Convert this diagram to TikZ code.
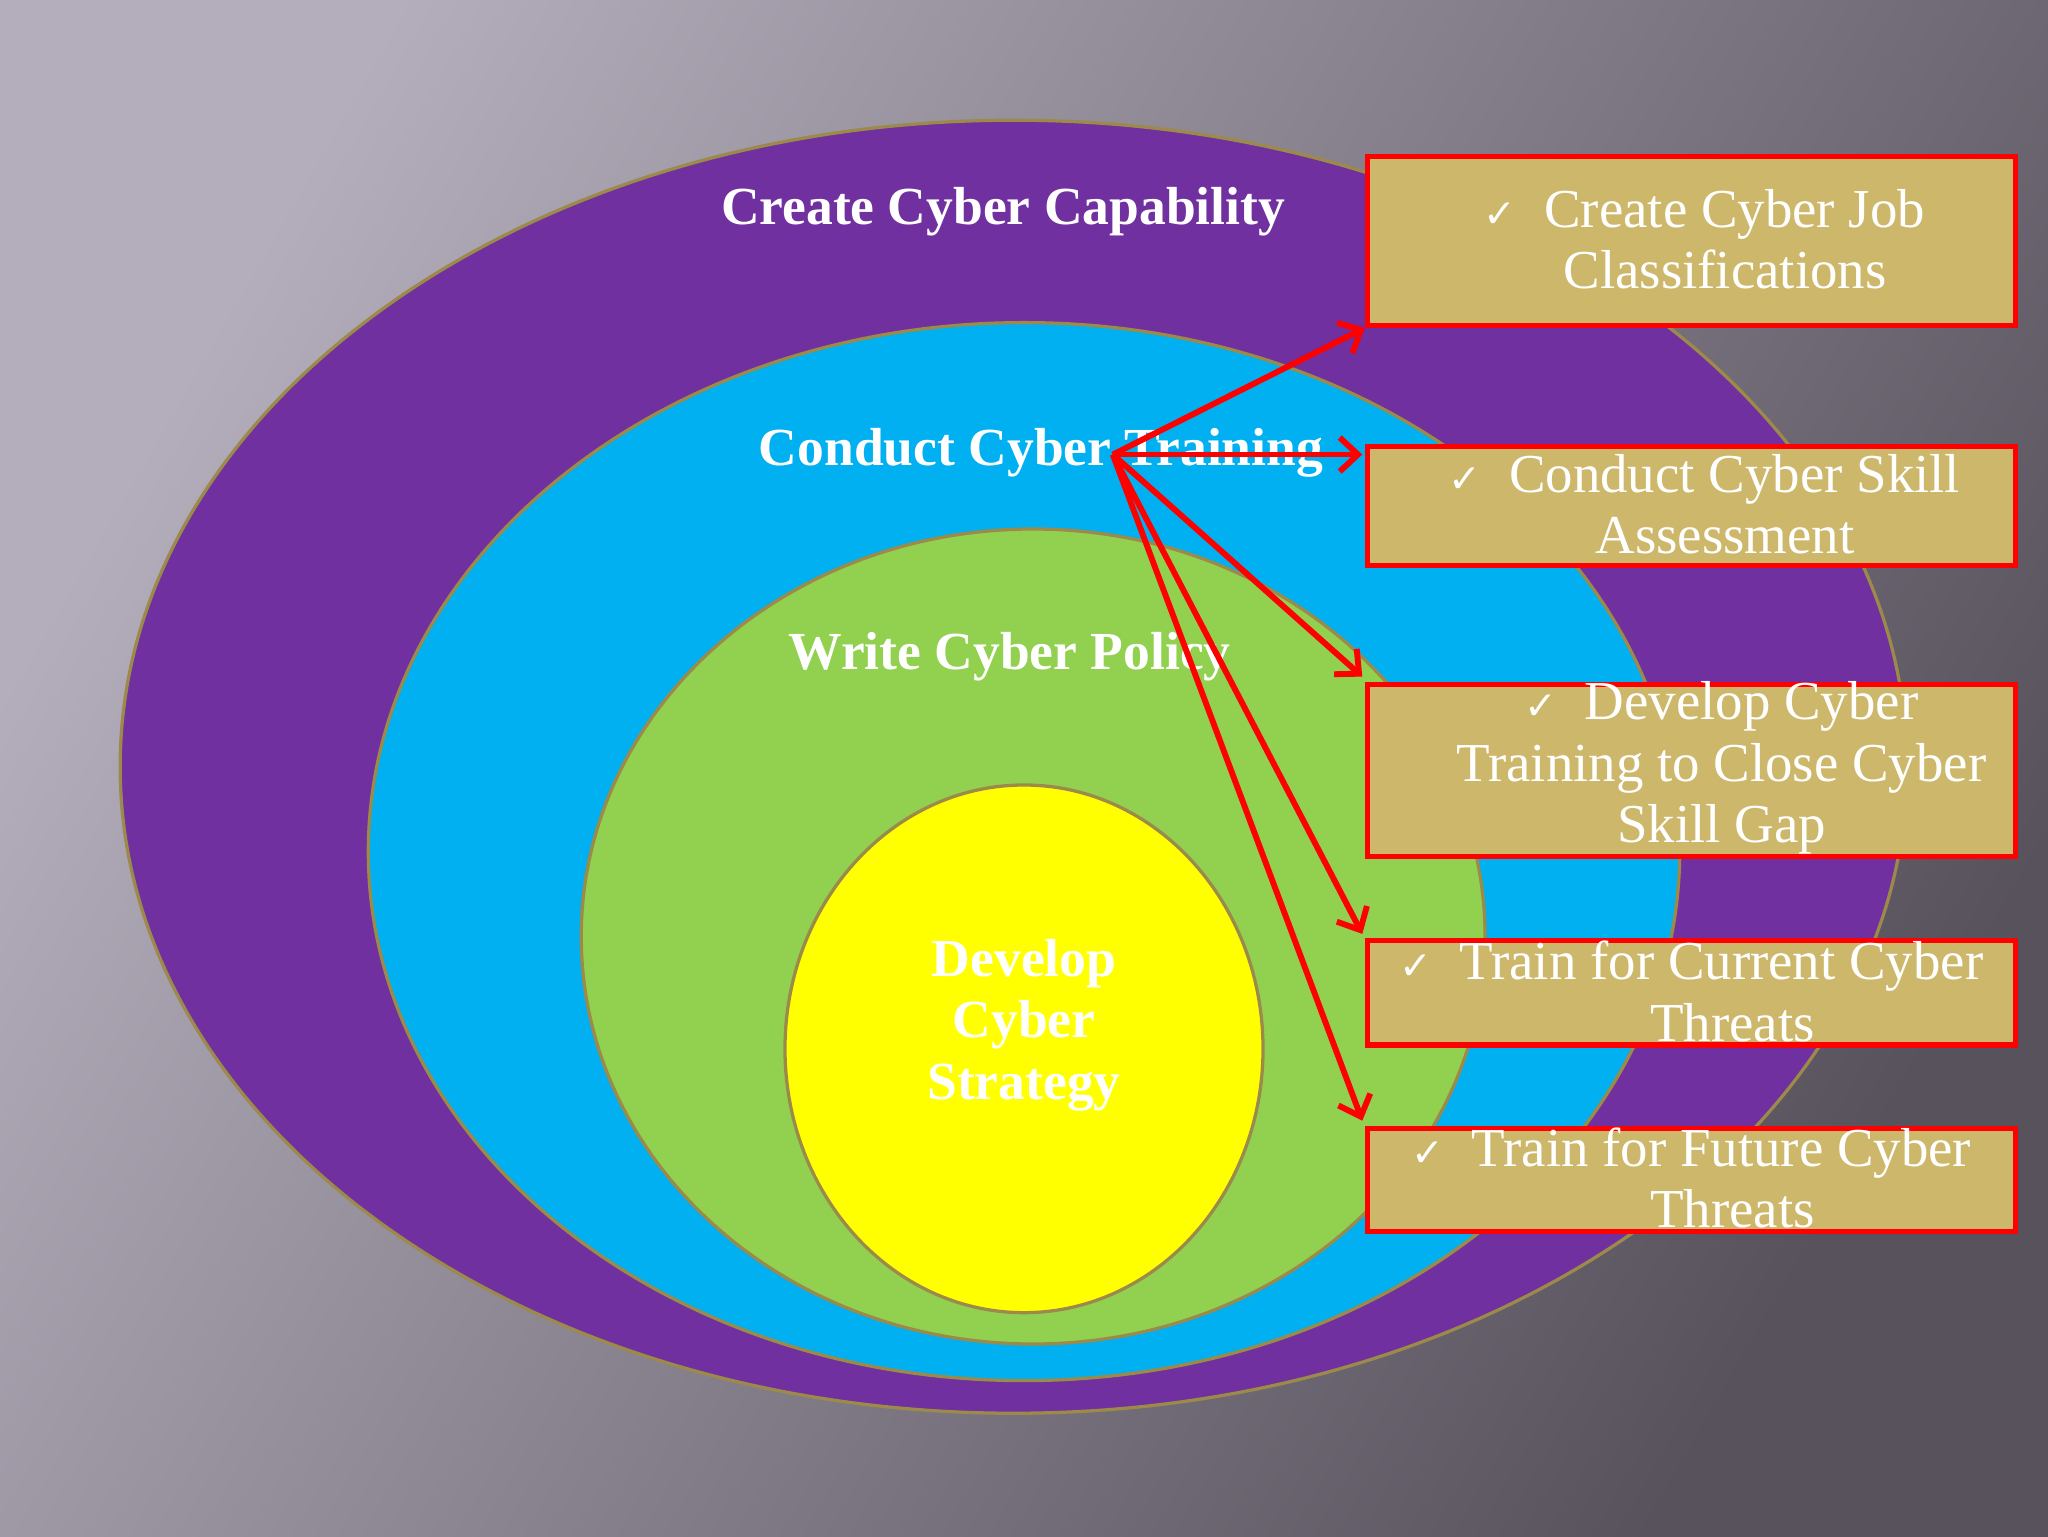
\documentclass[tikz,border=0pt]{standalone}
\usepackage{fontspec}
\setmainfont{Liberation Serif}
\newfontfamily\symf{DejaVu Sans}
\usetikzlibrary{calc,arrows.meta}
\definecolor{purp}{HTML}{7030A0}
\definecolor{bluec}{HTML}{00B0F0}
\definecolor{greenc}{HTML}{92D050}
\definecolor{yel}{HTML}{FFFF00}
\definecolor{rim}{HTML}{9C8A4A}
\definecolor{tanc}{HTML}{CDB76A}
\definecolor{bgl}{HTML}{B4AEBC}
\definecolor{bgr}{HTML}{57525C}
\tikzset{
 ring/.style={draw=rim,line width=2.5pt},
 lab/.style={text=white,font=\fontsize{41}{46}\selectfont\bfseries},
 box/.style={draw=red,line width=4pt,fill=tanc,anchor=north west,minimum width=496pt},
 btxt/.style={text=white,align=center,font=\fontsize{42}{47}\selectfont,inner sep=0pt},
 arr/.style={draw=red,line width=4.5pt,-{Straight Barb[length=14pt,width=26pt,line width=4.5pt]}}
}
\newcommand{\ck}{{\symf\fontsize{30}{30}\selectfont ✓}\ \ }
\begin{document}
\begin{tikzpicture}[x=1pt,y=-1pt]
\shade[left color=bgl,right color=bgr,shading angle=60] (0,0) rectangle (1568,1176);
\useasboundingbox (0,0) rectangle (1568,1176);
\fill[purp,ring] (776,587) ellipse [x radius=684,y radius=495];
\fill[bluec,ring] (784,652) ellipse [x radius=502,y radius=405];
\fill[greenc,ring] (791,717) ellipse [x radius=346,y radius=312];
\fill[yel,ring] (784,803) ellipse [x radius=183,y radius=202];
\node[lab] (l1) at (768,162) {Create Cyber Capability};
\node[lab] (l2) at (797,347) {Conduct Cyber Training};
\node[lab] (l3) at (773,503) {Write Cyber Policy};
\node[lab,align=center,font=\fontsize{41}{47}\selectfont\bfseries] (l4) at (784,785) {Develop\\Cyber\\Strategy};
\node[box,minimum height=129pt] (b1) at (1045,118) {};
\node[box,minimum height=91pt] (b2) at (1045,340) {};
\node[box,minimum height=132pt] (b3) at (1045,522) {};
\node[box,minimum height=80pt] (b4) at (1045,718) {};
\node[box,minimum height=79pt] (b5) at (1045,862) {};
\node[btxt] (t1) at (1305,183) {\ck Create Cyber Job\\\ \ \ Classifications};
\node[btxt] (t2) at (1305,386) {\ck Conduct Cyber Skill\\\ \ \ Assessment};
\node[btxt] (t3) at (1318,588) {\ck Develop Cyber\\Training to Close Cyber\\Skill Gap};
\node[btxt] (t4) at (1295,759) {\ck Train for Current Cyber\\\ \ \ \ \ \ Threats};
\node[btxt] (t5) at (1295,902) {\ck Train for Future Cyber\\\ \ \ \ \ \ Threats};
\coordinate (src) at (852,348);
\draw[arr] (src) -- (b1.south west);
\draw[arr] (src) -- ($(b2.north west)+(-2,8)$);
\draw[arr] (src) -- ($(b3.north west)+(-2,-4)$);
\draw[arr] (src) -- ($(b4.north west)+(-2,-3)$);
\draw[arr] (src) -- ($(b5.north west)+(-2,-4)$);
\end{tikzpicture}
\end{document}
